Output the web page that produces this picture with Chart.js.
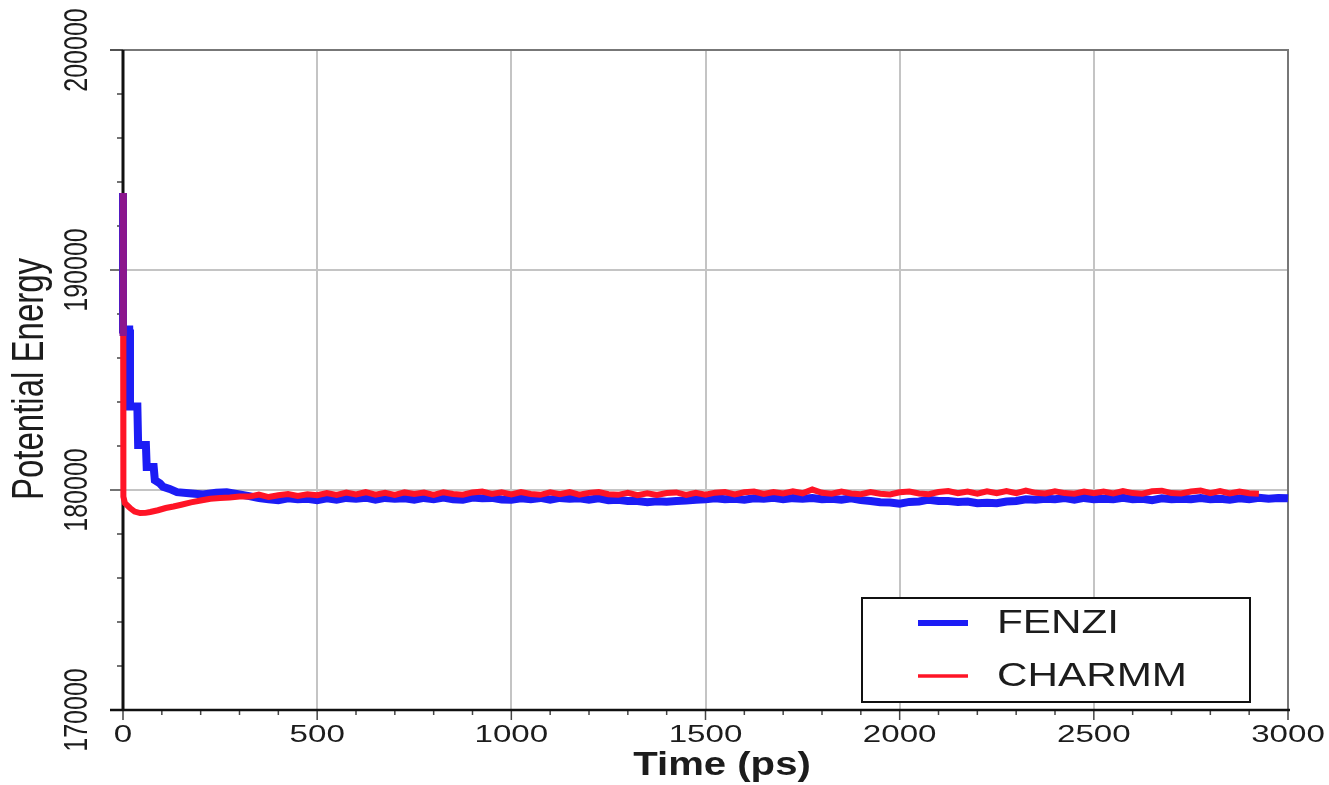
<!DOCTYPE html>
<html>
<head>
<meta charset="utf-8">
<title>Potential Energy</title>
<script src="https://cdn.jsdelivr.net/npm/chart.js@4"></script>
<style>
    body { margin: 0; background: #fff; }
    #wrap { width: 1329px; height: 785px; position: relative; }
</style>
</head>
<body>
<div id="wrap"><canvas id="chart"></canvas></div>
<script>
// equilibration part of both runs (ps, energy)
const fenziStartTime = [0, 0, 16, 18, 37, 39, 59, 61, 79, 82, 95, 103, 120, 139, 170, 206, 240, 267, 300]
const fenziStartEnergy = [193500, 187300, 187300, 183800, 183800, 182050, 182050, 181050, 181050, 180450, 180300, 180150, 180050, 179900, 179850, 179800, 179880, 179900, 179800]

const charmmStartTime = [0, 1, 5, 18, 30, 44, 58, 70, 90, 110, 130, 150, 175, 200, 225, 250, 275, 300]
const charmmStartEnergy = [193500, 179700, 179400, 179180, 179020, 178950, 178960, 179000, 179080, 179180, 179250, 179330, 179440, 179520, 179600, 179640, 179660, 179700]

// both coloured at t = 0 where the two traces sit on top of each other
const overlapTime = [0, 0]
const overlapEnergy = [193500, 187000]

// sampled production run
const sampleTime = [
    325, 350, 375, 400, 425, 450, 475, 500,
    525, 550, 575, 600, 625, 650, 675, 700, 725, 750,
    775, 800, 825, 850, 875, 900, 925, 950, 975, 1000,
    1025, 1050, 1075, 1100, 1125, 1150, 1175, 1200, 1225, 1250,
    1275, 1300, 1325, 1350, 1375, 1400, 1425, 1450, 1475, 1500,
    1525, 1550, 1575, 1600, 1625, 1650, 1675, 1700, 1725, 1750,
    1775, 1800, 1825, 1850, 1875, 1900, 1925, 1950, 1975, 2000,
    2025, 2050, 2075, 2100, 2125, 2150, 2175, 2200, 2225, 2250,
    2275, 2300, 2325, 2350, 2375, 2400, 2425, 2450, 2475, 2500,
    2525, 2550, 2575, 2600, 2625, 2650, 2675, 2700, 2725, 2750,
    2775, 2800, 2825, 2850, 2875, 2900, 2925, 2950, 2975, 3000,
    3015
]
const fenziSampled = [
    179720, 179630, 179580, 179540, 179620, 179580, 179600, 179540,
    179620, 179560, 179640, 179600, 179650, 179560, 179640, 179600, 179620, 179560,
    179640, 179580, 179660, 179580, 179560, 179660, 179620, 179640, 179570, 179560,
    179620, 179580, 179640, 179560, 179640, 179600, 179620, 179560, 179620, 179540,
    179560, 179500, 179500, 179440, 179490, 179470, 179500, 179520, 179560, 179580,
    179620, 179580, 179600, 179560, 179620, 179600, 179650, 179580, 179630, 179600,
    179640, 179580, 179600, 179560, 179620, 179540, 179500, 179440, 179430, 179380,
    179460, 179480, 179560, 179500, 179500, 179460, 179480, 179400, 179420, 179400,
    179480, 179500, 179580, 179560, 179600, 179580, 179630, 179560, 179640, 179580,
    179600, 179580, 179650, 179580, 179600, 179540, 179620, 179580, 179600, 179580,
    179640, 179580, 179600, 179560, 179620, 179580, 179650, 179600, 179640, 179620,
    179600
]
const charmmSampled = [
    179700, 179790, 179680, 179760, 179820, 179730, 179810, 179760,
    179860, 179780, 179880, 179800, 179900, 179790, 179870, 179780, 179890, 179820,
    179880, 179780, 179900, 179820, 179790, 179890, 179930, 179820, 179900, 179800,
    179910, 179820, 179780, 179890, 179810, 179900, 179790, 179870, 179910, 179810,
    179780, 179870, 179760, 179850, 179770, 179860, 179890, 179780, 179870, 179790,
    179880, 179910, 179800, 179900, 179930, 179820, 179910, 179840, 179940, 179850,
    180020, 179870, 179830, 179930, 179840, 179810, 179910, 179830, 179800, 179900,
    179930, 179840, 179810, 179910, 179950, 179850, 179930, 179830, 179940, 179860,
    179950, 179860, 179970, 179870, 179840, 179940, 179860, 179830, 179930, 179850,
    179930, 179840, 179950, 179860, 179830, 179940, 179970, 179860, 179840, 179930,
    179980, 179860, 179950, 179840, 179930, 179850, 179830
]

const legendOrder = ['FENZI', 'CHARMM']
const xMajor = 500
const yMajor = 10000

function toPoints(times, values) {
    return values.map((v, i) => ({ x: times[i], y: v }))
}

// helvetica-ish text, a bit wide, optionally turned to read bottom-up
function drawText(ctx, text, x, y, font, stretch, vertical) {
    ctx.save()
    ctx.translate(x, y)
    if (vertical) {
        ctx.rotate(-Math.PI / 2)
        ctx.scale(1, stretch)
    } else {
        ctx.scale(stretch, 1)
    }
    ctx.font = font
    ctx.fillStyle = '#1c1c1c'
    ctx.textAlign = 'center'
    ctx.textBaseline = 'middle'
    ctx.fillText(text, 0, 0)
    ctx.restore()
}

const frame = {
    id: 'frame',
    beforeDatasetsDraw(chart) {
        const { ctx, chartArea: a, scales: { x, y } } = chart
        ctx.save()

        ctx.strokeStyle = '#777'
        ctx.lineWidth = 2
        ctx.beginPath()
        ctx.moveTo(a.left - 13, a.top)
        ctx.lineTo(a.right, a.top)
        ctx.lineTo(a.right, a.bottom)
        ctx.stroke()

        ctx.strokeStyle = '#444'
        ctx.lineWidth = 1.5
        y.ticks.forEach(t => {
            const py = y.getPixelForValue(t.value)
            const len = t.value % yMajor === 0 ? 13 : 6
            ctx.beginPath()
            ctx.moveTo(a.left - len, py)
            ctx.lineTo(a.left, py)
            ctx.stroke()
        })
        x.ticks.forEach(t => {
            const px = x.getPixelForValue(t.value)
            const len = t.value % xMajor === 0 ? 10 : 5
            ctx.beginPath()
            ctx.moveTo(px, a.bottom)
            ctx.lineTo(px, a.bottom + len)
            ctx.stroke()
        })

        ctx.strokeStyle = '#111'
        ctx.lineWidth = 3
        ctx.beginPath()
        ctx.moveTo(a.left, a.top)
        ctx.lineTo(a.left, a.bottom)
        ctx.stroke()
        ctx.lineWidth = 2.5
        ctx.beginPath()
        ctx.moveTo(a.left - 13, a.bottom)
        ctx.lineTo(a.right + 2, a.bottom)
        ctx.stroke()
        ctx.restore()

        y.ticks.filter(t => t.value % yMajor === 0).forEach(t => {
            drawText(ctx, String(t.value), a.left - 45, y.getPixelForValue(t.value), '25px "Liberation Sans"', 1.35, true)
        })
        x.ticks.filter(t => t.value % xMajor === 0).forEach(t => {
            drawText(ctx, String(t.value), x.getPixelForValue(t.value), a.bottom + 25, '24px "Liberation Sans"', 1.38, false)
        })
        drawText(ctx, 'Potential Energy', 31, 379, '33px "Liberation Sans"', 1.35, true)
        drawText(ctx, 'Time (ps)', 722, 766, 'bold 34px "Liberation Sans"', 1.18, false)
    },
    afterDraw(chart) {
        const { ctx, chartArea: a } = chart
        const box = { left: a.right - 426, top: a.bottom - 112, width: 388, height: 104 }
        ctx.save()
        ctx.fillStyle = '#fff'
        ctx.fillRect(box.left, box.top, box.width, box.height)
        ctx.strokeStyle = '#111'
        ctx.lineWidth = 2
        ctx.strokeRect(box.left, box.top, box.width, box.height)

        legendOrder.forEach((name, i) => {
            const d = chart.data.datasets.find(s => s.label === name)
            const ly = box.top + 25 + i * 53
            ctx.strokeStyle = d.borderColor
            ctx.lineWidth = d.legendWidth
            ctx.beginPath()
            ctx.moveTo(box.left + 56, ly)
            ctx.lineTo(box.left + 106, ly)
            ctx.stroke()
            ctx.save()
            ctx.translate(box.left + 135, ly + 1)
            ctx.scale(1.28, 1)
            ctx.font = '33px "Liberation Sans"'
            ctx.fillStyle = '#1c1c1c'
            ctx.textBaseline = 'middle'
            ctx.fillText(d.label, 0, 0)
            ctx.restore()
        })
        ctx.restore()
    }
}

const gridColor = (step, lo, hi) => c => {
    const v = c.tick.value
    return v % step === 0 && v !== lo && v !== hi ? '#c4c4c4' : 'rgba(0,0,0,0)'
}

const config = {
    type: 'line',
    data: {
        datasets: [{
            label: 'overlap',
            data: toPoints(overlapTime, overlapEnergy),
            borderColor: '#8c168c',
            borderWidth: 7
        }, {
            label: 'CHARMM',
            data: toPoints(charmmStartTime, charmmStartEnergy).concat(toPoints(sampleTime, charmmSampled)),
            borderColor: '#ff1426',
            borderWidth: 6,
            legendWidth: 3.5
        }, {
            label: 'FENZI',
            data: toPoints(fenziStartTime, fenziStartEnergy).concat(toPoints(sampleTime, fenziSampled)),
            borderColor: '#1c1cf5',
            borderWidth: 8,
            legendWidth: 6
        }]
    },
    options: {
        responsive: true,
        maintainAspectRatio: false,
        animation: false,
        parsing: false,
        normalized: true,
        layout: { padding: { left: 123, right: 41, top: 50, bottom: 75 } },
        elements: {
            point: { radius: 0 },
            line: { tension: 0, fill: false, borderCapStyle: 'butt' }
        },
        datasets: { line: { clip: 10 } },
        plugins: {
            legend: { display: false },
            tooltip: { enabled: false }
        },
        scales: {
            x: {
                type: 'linear',
                min: 0,
                max: 3000,
                ticks: { display: false, stepSize: 100 },
                border: { display: false },
                grid: { drawTicks: false, lineWidth: 2, color: gridColor(xMajor, 0, 3000) }
            },
            y: {
                type: 'linear',
                min: 170000,
                max: 200000,
                ticks: { display: false, stepSize: 2000 },
                border: { display: false },
                grid: { drawTicks: false, lineWidth: 2, color: gridColor(yMajor, 170000, 200000) }
            }
        }
    },
    plugins: [frame]
}

window.onload = () => new Chart(document.getElementById('chart').getContext('2d'), config)
</script>
</body>
</html>
